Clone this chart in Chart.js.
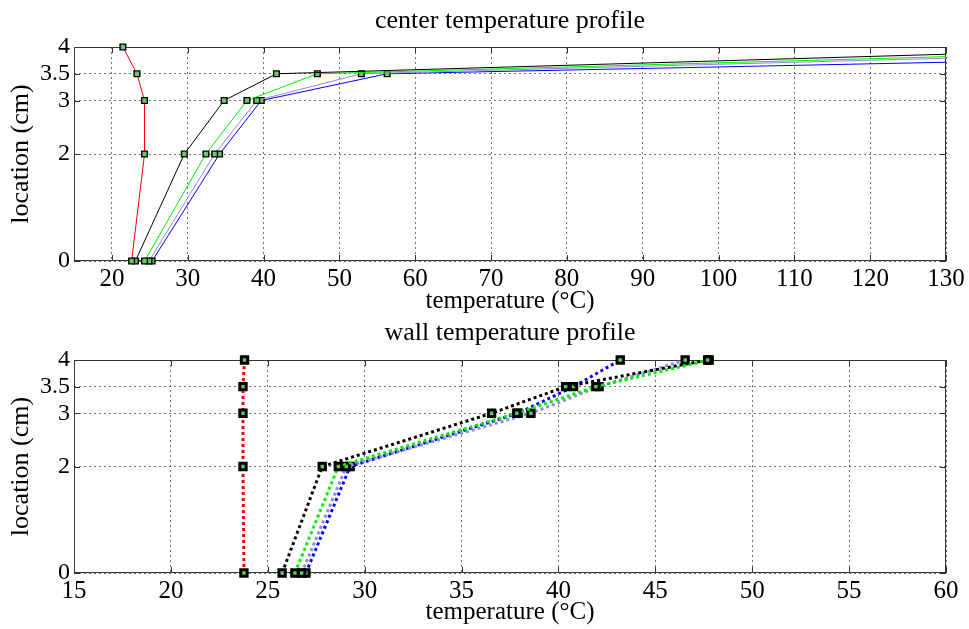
<!DOCTYPE html>
<html>
<head>
<meta charset="utf-8">
<script src="https://cdn.jsdelivr.net/npm/chart.js@4.4.1/dist/chart.umd.min.js"></script>
<style>
  html, body { margin: 0; padding: 0; background: #fff; }
  #wrap { position: relative; width: 969px; height: 629px; }
  .box { position: absolute; left: 0; width: 969px; }
  #box-center { top: 0; height: 318px; }
  #box-wall { top: 318px; height: 311px; }
</style>
</head>
<body>
<div id="wrap">
  <div class="box" id="box-center"><canvas id="chartCenter"></canvas></div>
  <div class="box" id="box-wall"><canvas id="chartWall"></canvas></div>
</div>
<script>
// 1. DADOS
const locations = [0, 2, 3, 3.5, 4];
const yTicks = [0, 2, 3, 3.5, 4];
const centerXTicks = [20, 30, 40, 50, 60, 70, 80, 90, 100, 110, 120, 130];
const wallXTicks = [15, 20, 25, 30, 35, 40, 45, 50, 55, 60];

// center temperature profile
const centerRed   = [22.6, 24.3, 24.3, 23.3, 21.45];
const centerBlack = [23.1, 29.55, 34.8, 41.7, 162.7];
const centerGreen = [24.3, 32.4, 37.8, 47.1, 176.6];
const centerGray  = [24.9, 33.55, 39.1, 52.9, 185.8];
const centerBlue  = [25.3, 34.2, 39.7, 56.3, 227.6];

// wall temperature profile
const wallRed   = [23.77, 23.72, 23.72, 23.72, 23.8];
const wallBlack = [25.74, 27.81, 36.55, 40.37, 47.7];
const wallGreen = [26.4, 28.64, 37.85, 41.93, 47.78];
const wallGray  = [26.75, 29.05, 38.58, 42.1, 46.54];
const wallBlue  = [26.97, 29.25, 37.92, 40.78, 43.19];

// 2. ESTILO
const cores = { red: '#ff0000', black: '#000000', green: '#00ee00', gray: '#8c8cdc', blue: '#0000ff' };
const FONTE = 'Liberation Serif';
const verdeMarcador = '#6cc46c';

const pontos = (temps) => temps.map((t, i) => ({ x: t, y: locations[i] }));

// moldura + ticks internos estilo MATLAB
const moldura = {
    id: 'moldura',
    beforeDatasetsDraw(chart) {
        const { ctx, chartArea: a, scales } = chart;
        ctx.save();
        ctx.strokeStyle = '#333';
        ctx.lineWidth = 1;
        ctx.strokeRect(Math.round(a.left) + 0.5, Math.round(a.top) + 0.5, Math.round(a.width) - 1, Math.round(a.height) - 1);
        ctx.beginPath();
        scales.x.ticks.forEach(t => {
            const px = Math.round(scales.x.getPixelForValue(t.value)) + 0.5;
            ctx.moveTo(px, a.bottom); ctx.lineTo(px, a.bottom - 6);
            ctx.moveTo(px, a.top); ctx.lineTo(px, a.top + 6);
        });
        scales.y.ticks.forEach(t => {
            const py = Math.round(scales.y.getPixelForValue(t.value)) + 0.5;
            ctx.moveTo(a.left, py); ctx.lineTo(a.left + 6, py);
            ctx.moveTo(a.right, py); ctx.lineTo(a.right - 6, py);
        });
        ctx.stroke();
        ctx.restore();
    }
};

function opcoes(titulo, xMin, xMax, xTicks, alturaX, tituloPad) {
    return {
        responsive: true,
        maintainAspectRatio: false,
        animation: false,
        layout: { padding: { left: 0, right: 23, top: 0, bottom: 0 } },
        plugins: {
            legend: { display: false },
            tooltip: { enabled: false },
            title: {
                display: true, text: titulo, fullSize: false, color: '#000',
                font: { family: FONTE, size: 26, weight: 'normal' },
                padding: tituloPad
            }
        },
        scales: {
            x: {
                type: 'linear', min: xMin, max: xMax,
                afterBuildTicks: s => { s.ticks = xTicks.map(v => ({ value: v })); },
                afterFit: s => { s.height = alturaX; },
                grid: { color: 'rgba(0,0,0,0.55)', drawTicks: false, lineWidth: 1 },
                border: { display: false, dash: [2, 3] },
                ticks: { color: '#000', padding: 3, maxRotation: 0, autoSkip: false, font: { family: FONTE, size: 25 }, callback: v => String(v) },
                title: { display: true, text: 'temperature (°C)', color: '#000', font: { family: FONTE, size: 25 }, padding: { top: 0, bottom: 2 } }
            },
            y: {
                type: 'linear', min: 0, max: 4,
                afterBuildTicks: s => { s.ticks = yTicks.map(v => ({ value: v })); },
                afterFit: s => { s.width = 74; },
                grid: { color: 'rgba(0,0,0,0.55)', drawTicks: false, lineWidth: 1 },
                border: { display: false, dash: [2, 3] },
                ticks: { color: '#000', padding: 4, autoSkip: false, font: { family: FONTE, size: 24 }, callback: v => String(v) },
                title: { display: true, text: 'location (cm)', color: '#000', font: { family: FONTE, size: 26 }, padding: { top: 6, bottom: 0 } }
            }
        }
    };
}

// 3. GRÁFICO DO CENTRO (linhas sólidas)
function serieCentro(temps, cor, livre) {
    return {
        data: pontos(temps),
        showLine: true,
        borderColor: cor,
        borderWidth: 1,
        pointStyle: 'rect',
        pointRadius: 4,
        pointBackgroundColor: verdeMarcador,
        pointBorderColor: '#000',
        pointBorderWidth: 1.4,
        clip: livre ? false : { left: 0, right: 0, top: false, bottom: false }
    };
}

new Chart(document.getElementById('chartCenter'), {
    type: 'scatter',
    data: {
        datasets: [
            serieCentro(centerRed, cores.red, true),
            serieCentro(centerBlack, cores.black),
            serieCentro(centerGreen, cores.green),
            serieCentro(centerGray, cores.gray),
            serieCentro(centerBlue, cores.blue)
        ]
    },
    options: opcoes('center temperature profile', 15, 130, centerXTicks, 57, { top: 5.4, bottom: 10.4 }),
    plugins: [moldura]
});

// 4. GRÁFICO DA PAREDE (linhas pontilhadas)
function seriePonto(temps, cor) {
    return {
        data: pontos(temps),
        showLine: true,
        borderColor: cor,
        borderWidth: 3,
        borderDash: [3, 3],
        pointStyle: 'rect',
        pointRadius: 4.5,
        pointBackgroundColor: verdeMarcador,
        pointBorderColor: '#000',
        pointBorderWidth: 3,
        clip: false
    };
}

new Chart(document.getElementById('chartWall'), {
    type: 'scatter',
    data: {
        datasets: [
            seriePonto(wallRed, cores.red),
            seriePonto(wallBlack, cores.black),
            seriePonto(wallGreen, cores.green),
            seriePonto(wallGray, cores.gray),
            seriePonto(wallBlue, cores.blue)
        ]
    },
    options: opcoes('wall temperature profile', 15, 60, wallXTicks, 56, { top: 0, bottom: 10.8 }),
    plugins: [moldura]
});
</script>
</body>
</html>
